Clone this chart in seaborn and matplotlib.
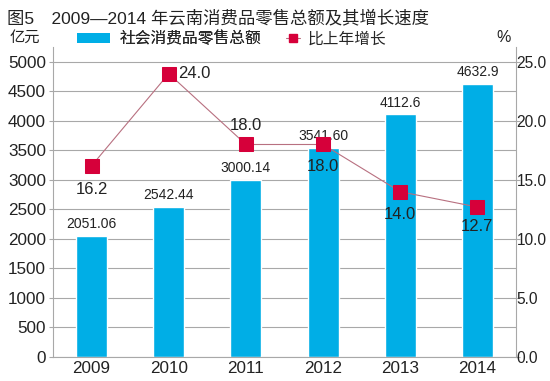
import numpy as np
import pandas as pd
import matplotlib
matplotlib.use("Agg")
import matplotlib.pyplot as plt
from matplotlib.patches import Patch
from matplotlib.lines import Line2D
import seaborn as sns

years = ["2009", "2010", "2011", "2012", "2013", "2014"]
sales = [2051.06, 2542.44, 3000.14, 3541.60, 4112.6, 4632.9]
sales_labels = ["2051.06", "2542.44", "3000.14", "3541.60", "4112.6", "4632.9"]
growth = [16.2, 24.0, 18.0, 18.0, 14.0, 12.7]
growth_labels = ["16.2", "24.0", "18.0", "18.0", "14.0", "12.7"]
left_ticks = [0, 500, 1000, 1500, 2000, 2500, 3000, 3500, 4000, 4500, 5000]
right_ticks = [0.0, 5.0, 10.0, 15.0, 20.0, 25.0]

BLUE = "#00aee6"
RED = "#d6003a"
LINE = "#b87080"
GRID = "#a8a8a8"
TXT = "#222222"

sns.set_style("white")
plt.rcParams["font.family"] = ["Liberation Sans", "Noto Sans CJK SC"]

YTOP = 5254
fig = plt.figure(figsize=(5.5, 3.81), dpi=100)
ax = fig.add_axes([0.0964, 0.063, 0.8418, 0.814])

df = pd.DataFrame({"year": years, "sales": sales})
sns.barplot(data=df, x="year", y="sales", color=BLUE, width=0.4, saturation=1,
            ax=ax, zorder=2)
ax.set_xlim(-0.5, 5.5)
ax.set_ylim(0, YTOP)
ax.set_yticks(left_ticks)
ax.set_yticklabels([str(t) for t in left_ticks], fontsize=12.3, color=TXT)
ax.set_xlabel("")
ax.set_ylabel("")
ax.yaxis.grid(True, color=GRID, lw=0.8, zorder=0)
ax.set_axisbelow(True)
ax.spines["top"].set_visible(False)
for s in ["left", "right", "bottom"]:
    ax.spines[s].set_color(GRID)
    ax.spines[s].set_linewidth(0.8)
ax.tick_params(axis="y", length=3, color=GRID, width=0.8, pad=2)
ax.tick_params(axis="x", which="major", length=0, labelsize=12.3, labelcolor=TXT, pad=3)
ax.set_xticks(np.arange(-0.5, 6.0, 1.0), minor=True)
ax.tick_params(axis="x", which="minor", length=4, color=GRID, width=0.8)

for i, (v, lab) in enumerate(zip(sales, sales_labels)):
    ax.text(i, v + 80, lab, ha="center", va="bottom", fontsize=10, color=TXT, zorder=5)

ax2 = ax.twinx()
gdf = pd.DataFrame({"pos": np.arange(len(years)), "growth": growth})
sns.lineplot(data=gdf, x="pos", y="growth", ax=ax2, color=LINE, lw=0.8,
             marker="s", markersize=10, markerfacecolor=RED, markeredgecolor=RED, zorder=4)
ax2.set_ylim(0, 25 * YTOP / 5000)
ax2.set_yticks(right_ticks)
ax2.set_yticklabels([f"{t:.1f}" for t in right_ticks], fontsize=11.2, color=TXT)
ax2.tick_params(axis="y", length=3, color=GRID, width=0.8, pad=-2.5)
ax2.set_ylabel("")
ax2.set_xlabel("")
ax2.set_xlim(-0.5, 5.5)
for s in ax2.spines.values():
    s.set_visible(False)

offsets = [(0, -1.4, "center", "top"), (0.12, 0, "left", "center"),
           (0, 1.0, "center", "bottom"), (0, -1.2, "center", "top"),
           (0, -1.3, "center", "top"), (0, -1.0, "center", "top")]
for i, (g, lab) in enumerate(zip(growth, growth_labels)):
    dx, dy, ha, va = offsets[i]
    ax2.text(i + dx, g + dy, lab, ha=ha, va=va, fontsize=12, color=TXT, zorder=6)

fig.text(0.012, 0.975, "图5　2009—2014 年云南消费品零售总额及其增长速度",
         fontsize=12.5, color=TXT, ha="left", va="top")
fig.text(0.018, 0.9, "亿元", fontsize=11, color=TXT, ha="left", va="center")
fig.text(0.903, 0.902, "%", fontsize=11.5, color=TXT, ha="left", va="center")

leg1 = fig.legend([Patch(facecolor=BLUE, edgecolor="none")], ["社会消费品零售总额"],
                  loc="center left", bbox_to_anchor=(0.14, 0.898), frameon=False,
                  fontsize=11.3, handlelength=2.1, handleheight=0.55, handletextpad=0.6,
                  borderaxespad=0, borderpad=0)
fig.add_artist(leg1)
fig.legend([Line2D([0], [0], color=LINE, lw=0.8, marker="s", markersize=5.5,
                   markerfacecolor=RED, markeredgecolor=RED)], ["比上年增长"],
           loc="center left", bbox_to_anchor=(0.52, 0.898), frameon=False,
           fontsize=11.3, handlelength=0.9, handletextpad=0.45,
           borderaxespad=0, borderpad=0)

fig.savefig("out.png", dpi=100)
